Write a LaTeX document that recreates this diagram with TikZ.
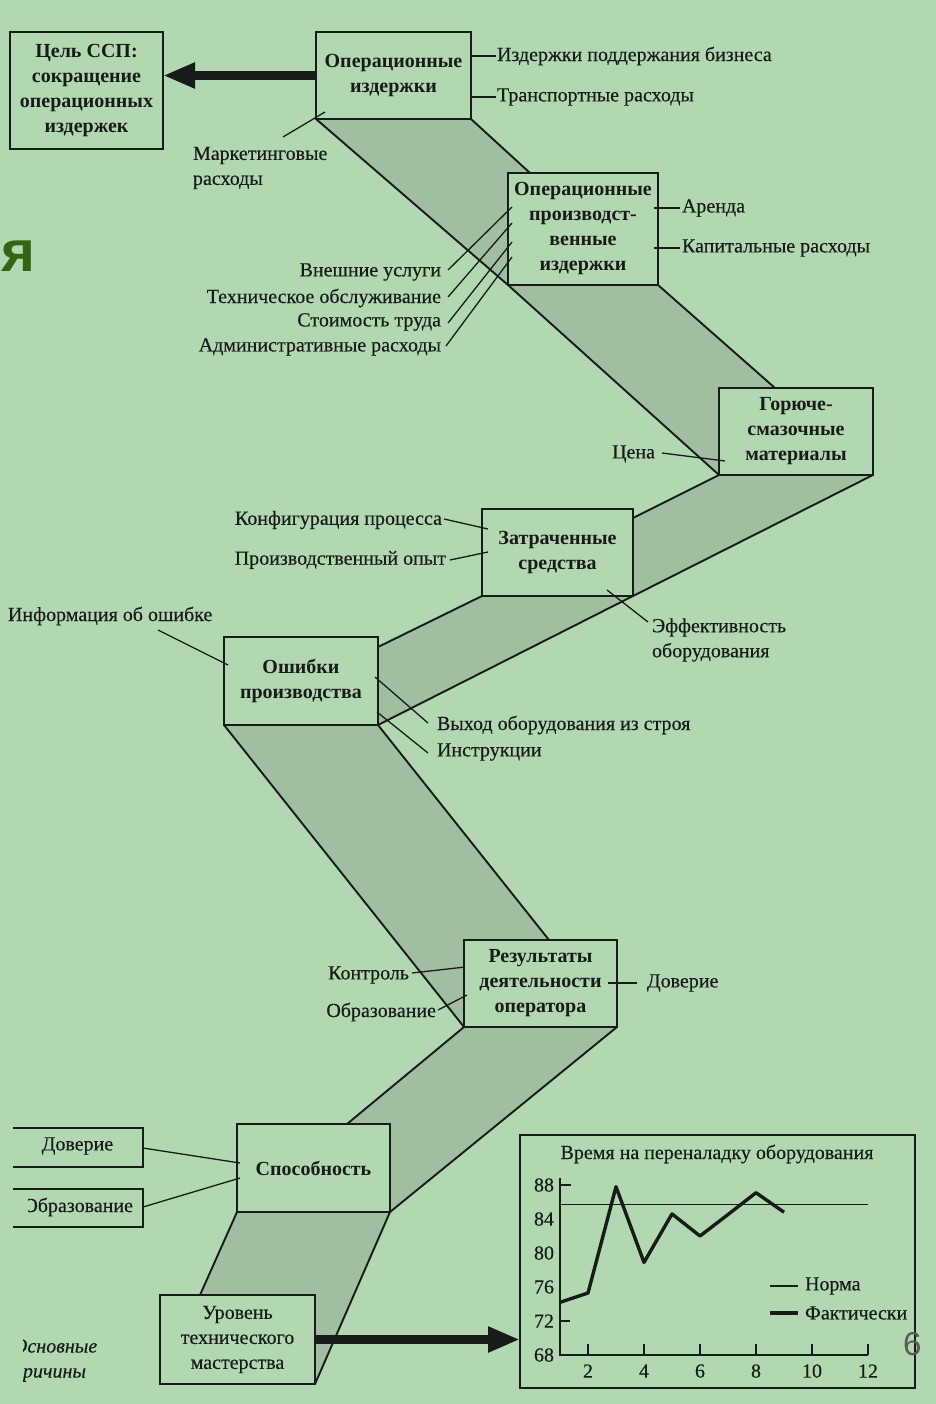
\documentclass[tikz,border=0pt]{standalone}
\usepackage{fontspec}
\setmainfont{Liberation Serif}
\newfontfamily\lblfont[FakeBold=0.35]{Liberation Serif}
\newfontfamily\slidesans{Liberation Sans}
\usetikzlibrary{arrows.meta}
\definecolor{bg}{RGB}{178,216,178}
\definecolor{shade}{RGB}{162,190,160}
\definecolor{ink}{RGB}{24,28,24}
\definecolor{titlegreen}{RGB}{50,100,18}
\definecolor{pagegray}{RGB}{90,90,90}

\begin{document}
\begin{tikzpicture}[x=1pt,y=-1pt,
  box/.style={draw=ink, line width=1.9pt, fill=bg, inner sep=0pt, outer sep=0pt,
    align=center, text=ink, font=\bfseries\fontsize{20}{25}\selectfont},
  plainbox/.style={box, font=\lblfont\fontsize{20}{25}\selectfont},
  lbl/.style={inner sep=0pt, outer sep=0pt, text=ink, font=\lblfont\fontsize{20}{25}\selectfont},
  lead/.style={draw=ink, line width=1.3pt},
  band/.style={fill=shade},
  bandedge/.style={draw=ink, line width=1.9pt, line join=round},
  bigarrow/.style={draw=ink, line width=9pt, -{Triangle[length=32pt,width=24pt]}},
]
\useasboundingbox (0,0) rectangle (936,1404);
\fill[bg] (0,0) rectangle (936,1404);

% shaded bands of the staircase
\fill[band] (316,119) -- (471,119) -- (530,173) -- (508,173) -- (508,285) -- cycle;
\fill[band] (508,285) -- (658,285) -- (775,388) -- (719,388) -- (719,475) -- cycle;
\fill[band] (719,475) -- (873,475) -- (633,596) -- (633,518) -- cycle;
\fill[band] (482,596) -- (633,596) -- (378,725) -- (378,647) -- cycle;
\fill[band] (224,725) -- (378,725) -- (549,940) -- (464,940) -- (464,1027) -- cycle;
\fill[band] (464,1027) -- (617,1027) -- (390,1212) -- (390,1124) -- (347,1124) -- cycle;
\fill[band] (237,1212) -- (390,1212) -- (315,1384) -- (315,1295) -- (200,1295) -- cycle;

% band edges
\draw[bandedge] (316,119) -- (508,285) -- (719,475);
\draw[bandedge] (471,119) -- (530,173);
\draw[bandedge] (658,285) -- (775,388);
\draw[bandedge] (719,475) -- (633,518);
\draw[bandedge] (873,475) -- (633,596) -- (378,725);
\draw[bandedge] (482,596) -- (378,647);
\draw[bandedge] (224,725) -- (464,1027);
\draw[bandedge] (378,725) -- (549,940);
\draw[bandedge] (464,1027) -- (347,1124);
\draw[bandedge] (617,1027) -- (390,1212);
\draw[bandedge] (237,1212) -- (200,1295);
\draw[bandedge] (390,1212) -- (315,1384);

% boxes
\node[box, minimum width=153pt, minimum height=117pt] (goal) at (86.5,90.5)
  {Цель ССП:\\сокращение\\операционных\\издержек};
\node[box, minimum width=155pt, minimum height=87pt] (b2) at (393.5,75.5)
  {Операционные\\издержки};
\node[box, minimum width=150pt, minimum height=112pt] (b3) at (583,229)
  {Операционные\\производст-\\венные\\издержки};
\node[box, minimum width=154pt, minimum height=87pt] (b4) at (796,431.5)
  {Горюче-\\смазочные\\материалы};
\node[box, minimum width=151pt, minimum height=87pt] (b5) at (557.5,552.5)
  {Затраченные\\средства};
\node[box, minimum width=154pt, minimum height=88pt] (b6) at (301,681)
  {Ошибки\\производства};
\node[box, minimum width=153pt, minimum height=87pt] (b7) at (540.5,983.5)
  {Результаты\\деятельности\\оператора};
\node[box, minimum width=153pt, minimum height=88pt] (b8) at (313.5,1168)
  {Способность};
\node[plainbox, minimum width=155pt, minimum height=89pt] (b9) at (237.5,1339.5)
  {Уровень\\технического\\мастерства};

% open frames on the left edge
\draw[ink, line width=1.9pt] (13,1128) -- (143,1128) -- (143,1167) -- (13,1167);
\draw[ink, line width=1.9pt] (13,1189) -- (143,1189) -- (143,1227) -- (13,1227);

% labels
\node[lbl, anchor=west] (isd) at (497,56) {Издержки поддержания бизнеса};
\node[lbl, anchor=west] (trn) at (497,97) {Транспортные расходы};
\node[lbl, anchor=west, align=left] (mkt) at (193,168) {Маркетинговые\\расходы};
\node[lbl, anchor=west] (ar) at (682,208) {Аренда};
\node[lbl, anchor=west] (kap) at (682,248) {Капитальные расходы};
\node[lbl, anchor=east] (vn) at (441,272) {Внешние услуги};
\node[lbl, anchor=east] (to) at (441,298) {Техническое обслуживание};
\node[lbl, anchor=east] (st) at (441,322) {Стоимость труда};
\node[lbl, anchor=east] (adm) at (441,347) {Административные расходы};
\node[lbl, anchor=east] (cena) at (655,454) {Цена};
\node[lbl, anchor=east] (konf) at (442,520) {Конфигурация процесса};
\node[lbl, anchor=east] (pop) at (446,560) {Производственный опыт};
\node[lbl, anchor=west] (inf) at (8,616) {Информация об ошибке};
\node[lbl, anchor=west, align=left] (eff) at (652,640) {Эффективность\\оборудования};
\node[lbl, anchor=west] (vyh) at (437,725) {Выход оборудования из строя};
\node[lbl, anchor=west] (instr) at (437,752) {Инструкции};
\node[lbl, anchor=east] (kontr) at (409,975) {Контроль};
\node[lbl, anchor=east] (obr7) at (436,1012) {Образование};
\node[lbl, anchor=west] (dov7) at (647,983) {Доверие};
\node[lbl] (dovL) at (77.5,1146) {Доверие};
\begin{scope}
  \clip (28,1180) rectangle (150,1236);
  \node[lbl, anchor=east] (obrL) at (133,1207) {Образование};
\end{scope}
\begin{scope}
  \clip (23,1330) rectangle (120,1395);
  \node[lbl, anchor=west, align=left, font=\lblfont\itshape\fontsize{20}{25}\selectfont] (osn)
    at (13,1360.5) {Основные\\причины};
\end{scope}

% leader lines
\coordinate (mktA) at (283,137);   \coordinate (mktB) at (325,112);
\coordinate (vnB) at (512,207);    \coordinate (toB) at (512,223);
\coordinate (stB) at (512,242);    \coordinate (admB) at (512,257);
\coordinate (cenaB) at (725,461);
\coordinate (konfB) at (488,529);  \coordinate (popB) at (488,552);
\coordinate (infA) at (158,630);   \coordinate (infB) at (228,665);
\coordinate (effA) at (607,590);   \coordinate (effB) at (648,622);
\coordinate (vyhA) at (375,677);   \coordinate (instrA) at (377,712);
\coordinate (kontrB) at (465,967); \coordinate (obr7B) at (467,995);
\coordinate (dovLA) at (143,1148); \coordinate (dovLB) at (240,1163);
\coordinate (obrLA) at (143,1207); \coordinate (obrLB) at (240,1178);

\draw[lead] (mktA) -- (mktB);
\draw[lead] (b2.east |- isd.west) -- ([xshift=-1pt]isd.west);
\draw[lead] (b2.east |- trn.west) -- ([xshift=-1pt]trn.west);
\draw[lead] ([xshift=-4pt]b3.east |- ar.west) -- ([xshift=-2pt]ar.west);
\draw[lead] ([xshift=-4pt]b3.east |- kap.west) -- ([xshift=-2pt]kap.west);
\draw[lead] ([xshift=7pt,yshift=2pt]vn.east) -- (vnB);
\draw[lead] ([xshift=7pt,yshift=1pt]to.east) -- (toB);
\draw[lead] ([xshift=7pt,yshift=-1pt]st.east) -- (stB);
\draw[lead] ([xshift=5pt,yshift=1pt]adm.east) -- (admB);
\draw[lead] ([xshift=7pt,yshift=1pt]cena.east) -- (cenaB);
\draw[lead] ([xshift=2pt,yshift=1pt]konf.east) -- (konfB);
\draw[lead] ([xshift=4pt]pop.east) -- (popB);
\draw[lead] (infA) -- (infB);
\draw[lead] (effA) -- (effB);
\draw[lead] (vyhA) -- ([xshift=-9pt,yshift=2pt]vyh.west);
\draw[lead] (instrA) -- ([xshift=-9pt,yshift=-1pt]instr.west);
\draw[lead] ([xshift=3pt,yshift=2pt]kontr.east) -- (kontrB);
\draw[lead] ([xshift=2pt,yshift=2pt]obr7.east) -- (obr7B);
\draw[lead] ([xshift=-9pt]b7.east |- dov7.west) -- ([xshift=-10pt]dov7.west);
\draw[lead] (dovLA) -- (dovLB);
\draw[lead] (obrLA) -- (obrLB);

% chart
\node[draw=ink, line width=1.9pt, inner sep=0pt, outer sep=0pt,
  minimum width=395pt, minimum height=253pt] (chart) at (717.5,1261.5) {};
\node[lbl] (ctitle) at (717,1154) {Время на переналадку оборудования};
\draw[ink, line width=1.9pt] (560,1178) -- (560,1355) -- (868,1355);
\foreach \n in {2,4,...,12} {
  \draw[ink, line width=1.9pt] ({560+28*(\n-1)},1344) -- ({560+28*(\n-1)},1355);
  \node[lbl] at ({560+28*(\n-1)},1371) {\n};
}
\foreach \v in {68,72,...,88} {
  \node[lbl, anchor=east] at (554,{1355-8.5*(\v-68)}) {\v};
}
\draw[ink, line width=1.6pt] (560,1185) -- (571,1185);
\draw[ink, line width=1.6pt] (560,1321) -- (570,1321);
\draw[ink, line width=1.3pt] (560,1204.5) -- (868,1204.5);
\draw[ink, line width=3.4pt, line join=round]
  (560,1302.3) -- (588,1293) -- (616,1186.7) -- (644,1262.4) -- (672,1213.9)
  -- (700,1236) -- (728,1214.5) -- (756,1192.7) -- (784,1212.2);
\node[lbl, anchor=west] (lnorm) at (805,1286) {Норма};
\node[lbl, anchor=west] (lfact) at (805,1313) {Фактически};
\draw[ink, line width=1.3pt] ([xshift=-35pt]lnorm.west) -- ([xshift=-7pt]lnorm.west);
\draw[ink, line width=3.4pt] ([xshift=-35pt]lfact.west) -- ([xshift=-7pt]lfact.west);

% thick arrows
\draw[bigarrow] (b2.west) -- (goal.east |- b2.west);
\draw[bigarrow] (b9.east) -- (chart.west |- b9.east);

% slide overlay marks
\node[inner sep=0pt, anchor=base west, text=titlegreen,
  font=\slidesans\bfseries\fontsize{58}{60}\selectfont] (ya) at (1,272) {я};
\node[inner sep=0pt, anchor=base west, text=pagegray,
  font=\slidesans\fontsize{33}{36}\selectfont] (pg) at (903,1355) {6};
\end{tikzpicture}
\end{document}
